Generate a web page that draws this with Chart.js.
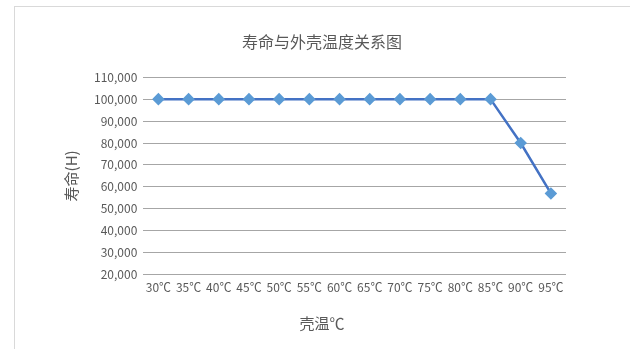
<!DOCTYPE html>
<html>
<head>
<meta charset="utf-8">
<script src="https://cdn.jsdelivr.net/npm/chart.js@4"></script>
<style>
  body { margin:0; background:#fff; }
  #wrap { position:relative; width:630px; height:349px; overflow:hidden; }
  #frame { position:absolute; left:14px; top:6px; width:640px; height:360px; border:1px solid #d9d9d9; }
  canvas { position:absolute; left:0; top:0; }
</style>
</head>
<body>
<div id="wrap">
  <div id="frame"></div>
  <canvas id="myChart" width="630" height="349"></canvas>
</div>
<script>
const labels = ['30℃','35℃','40℃','45℃','50℃','55℃','60℃','65℃','70℃','75℃','80℃','85℃','90℃','95℃'];
const life = [100000,100000,100000,100000,100000,100000,100000,100000,100000,100000,100000,100000,80000,57000];
const yMin = 20000;
const yMax = 110000;
const yStep = 10000;

const fontFam = '"Noto Sans CJK SC", "Noto Sans", sans-serif';
const txt = '#595959';

// title and x caption sit centred on the whole frame, not the plot
const shiftTitle = {
  id: 'shiftTitle',
  afterLayout(chart) {
    chart.boxes.forEach(b => {
      if (!b.axis && b.options && b.options.text !== undefined) {
        b.left += 10;
        b.right += 10;
      }
    });
  }
};

const ctx = document.getElementById('myChart').getContext('2d');
const lifeChart = new Chart(ctx, {
  type: 'line',
  data: {
    labels: labels,
    datasets: [{
      label: '寿命(H)',
      data: life,
      borderColor: '#4472C4',
      borderWidth: 2.5,
      pointStyle: 'rectRot',
      pointRadius: 4.5,
      pointBackgroundColor: '#5B9BD5',
      pointBorderColor: '#5B9BD5',
      tension: 0
    }]
  },
  options: {
    responsive: false,
    animation: false,
    layout: { padding: { left: 58, right: 64, top: 32, bottom: 17 } },
    scales: {
      x: {
        offset: true,
        grid: { display: false, drawTicks: false },
        border: { display: false },
        ticks: { color: txt, font: { family: fontFam, size: 12 }, maxRotation: 0, autoSkip: false, padding: 6 }
      },
      y: {
        min: yMin,
        max: yMax,
        border: { display: false },
        grid: { color: '#a6a6a6', drawTicks: false, lineWidth: 1 },
        ticks: {
          stepSize: yStep,
          color: txt,
          padding: 6,
          font: { family: fontFam, size: 12 },
          callback: v => v.toLocaleString('en-US')
        },
        title: { display: true, text: '寿命(H)', color: txt, font: { family: fontFam, size: 15 }, padding: { bottom: 8 } }
      }
    },
    plugins: {
      legend: { display: false },
      tooltip: { enabled: false },
      title: {
        display: true,
        text: '寿命与外壳温度关系图',
        color: txt,
        font: { family: fontFam, size: 16, weight: 'normal' },
        padding: { top: 0, bottom: 26 }
      },
      subtitle: {
        display: true,
        position: 'bottom',
        text: '壳温℃',
        color: txt,
        font: { family: fontFam, size: 15, weight: 'normal' },
        padding: { top: 13, bottom: 0 }
      }
    }
  },
  plugins: [shiftTitle]
});
</script>
</body>
</html>
